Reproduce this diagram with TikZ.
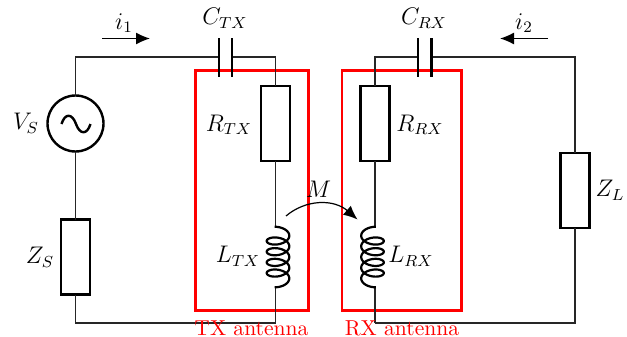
\documentclass[tikz,border=0pt]{standalone}
\usetikzlibrary{arrows.meta}
\tikzset{
  wire/.style={line width=0.6pt,draw=black!85},
  comp/.style={draw=black,line width=1.2pt,fill=white,minimum width=14.5pt,minimum height=37.5pt,inner sep=0pt,outer sep=0pt},
  srcnode/.style={circle,draw=black,line width=1.2pt,minimum size=28pt,inner sep=0pt,outer sep=0pt},
  plate/.style={draw=black,line width=1.2pt},
  coilline/.style={draw=black,line width=1.1pt},
  antenna/.style={draw=red,line width=1.25pt},
  redlabel/.style={text=red,font=\fontsize{10.8}{12}\selectfont,inner sep=0pt},
  lab/.style={font=\fontsize{11.7}{14}\selectfont,inner sep=0pt},
  flow/.style={line width=0.6pt,-{Latex[length=7pt,width=6pt]}}
}
\begin{document}
\begin{tikzpicture}[x=0.5pt,y=-0.5pt]
\useasboundingbox (0,0) rectangle (627,337);
% antenna boxes
\node[antenna,minimum width=56.5pt,minimum height=120pt,inner sep=0pt] (TXbox) at (252,190.25) {};
\node[antenna,minimum width=59.75pt,minimum height=120pt,inner sep=0pt] (RXbox) at (401.75,190.25) {};
% components
\node[srcnode] (VS) at (75.5,123.5) {};
\node[comp] (ZS) at (75.5,257) {};
\node[comp] (RTX) at (275.5,123.5) {};
\node[comp] (RRX) at (375,123.5) {};
\node[comp] (ZL) at (575,190.5) {};
\coordinate (CTXa) at (219,57);
\coordinate (CTXb) at (232,57);
\coordinate (CRXa) at (418,57);
\coordinate (CRXb) at (431.5,57);
\coordinate (LTXa) at (275.5,227);
\coordinate (LTXb) at (275.5,287);
\coordinate (LRXa) at (375,227);
\coordinate (LRXb) at (375,287);
\coordinate (TXbot) at (275.5,323);
\coordinate (RXbot) at (375,323);
% wires
\draw[wire] (VS.north) |- (CTXa);
\draw[wire] (CTXb) -| (RTX.north);
\draw[wire] (RTX.south) -- (LTXa);
\draw[wire] (LTXb) -- (TXbot);
\draw[wire] (VS.south) -- (ZS.north);
\draw[wire] (ZS.south) |- (TXbot);
\draw[wire] (CRXa) -| (RRX.north);
\draw[wire] (CRXb) -| (ZL.north);
\draw[wire] (RRX.south) -- (LRXa);
\draw[wire] (LRXb) -- (RXbot);
\draw[wire] (ZL.south) |- (RXbot);
% capacitor plates
\draw[plate] (219,38) -- (219,77) (232,38) -- (232,77);
\draw[plate] (418,38) -- (418,77) (431.5,38) -- (431.5,77);
% source symbol
\draw[line width=1.2pt] (61.5,124) .. controls (65,113) and (72,113) .. (76,124) .. controls (80,135) and (87,135) .. (90.5,124);
% coils
\draw[coilline,smooth,samples=160,domain=-0.3:28.57,variable=\t] plot ({278+11.3*sin(\t r)},{233+1.7*\t-6*cos(\t r)});
\draw[coilline,smooth,samples=160,domain=-0.3:28.57,variable=\t] plot ({372.5-11.3*sin(\t r)},{233+1.7*\t-6*cos(\t r)});
% arrows
\coordinate (I1a) at (102,38.5); \coordinate (I1b) at (150,38.5);
\coordinate (I2a) at (548,38.5); \coordinate (I2b) at (500,38.5);
\draw[flow] (I1a) -- (I1b);
\draw[flow] (I2a) -- (I2b);
\coordinate (Ma) at (286,216); \coordinate (Mb) at (357.5,219.5);
\draw[flow] (Ma) .. controls (306,199) and (334,199) .. (Mb);
% labels
\node[lab] (li1) at (124,23) {$i_1$};
\node[lab] (li2) at (524,23) {$i_2$};
\node[lab] (lCTX) at (225,18.5) {$C_{TX}$};
\node[lab] (lCRX) at (424,18.5) {$C_{RX}$};
\node[lab] (lVS) at (26,123.5) {$V_S$};
\node[lab] (lZS) at (40,257) {$Z_S$};
\node[lab] (lRTX) at (229,125) {$R_{TX}$};
\node[lab] (lRRX) at (420,125) {$R_{RX}$};
\node[lab] (lLTX) at (238,256) {$L_{TX}$};
\node[lab] (lLRX) at (411,256) {$L_{RX}$};
\node[lab] (lZL) at (610,190) {$Z_L$};
\node[lab] (lM) at (318.5,189) {$M$};
\node[redlabel] (lTX) at (251.5,328) {TX antenna};
\node[redlabel] (lRX) at (402,328) {RX antenna};
\end{tikzpicture}
\end{document}
